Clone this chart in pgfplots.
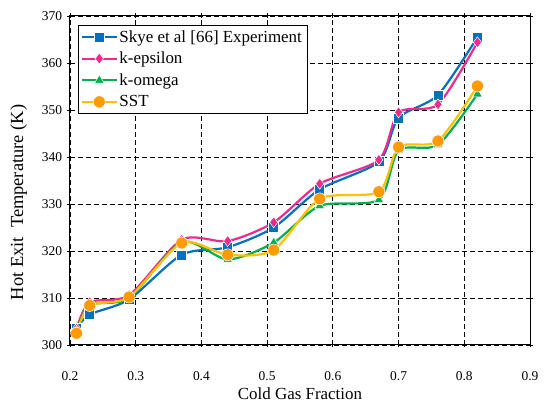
\documentclass[border=0pt]{standalone}
\usepackage{pgfplots}
\pgfplotsset{compat=1.18}
\usepackage{fontspec}
\setmainfont{Liberation Serif}
\definecolor{cexp}{HTML}{0070C0}
\definecolor{ceps}{HTML}{F02A8C}
\definecolor{come}{HTML}{00B050}
\definecolor{csstl}{HTML}{FFC000}
\definecolor{csstm}{HTML}{FF9A00}
\begin{document}
\begin{tikzpicture}
\begin{axis}[name=ax,
  scale only axis, width=460bp, height=329bp,
  xmin=0.2, xmax=0.9, ymin=300, ymax=370,
  xtick={0.2,0.3,...,0.9}, ytick={300,310,...,370},
  xticklabels={0.2,0.3,0.4,0.5,0.6,0.7,0.8,0.9},
  /pgf/number format/assume math mode=true,
  tick align=center, major tick length=5bp,
  tick style={black, line width=0.8bp},
  axis line style={black, line width=1bp},
  grid=major, grid style={black, dash pattern=on 5bp off 3bp, line width=0.8bp},
  tick label style={font=\fontsize{13.5}{15}\selectfont},
  xticklabel style={yshift=-21bp},
  yticklabel style={xshift=-2bp},
  xlabel style={font=\fontsize{17}{19}\selectfont, yshift=0bp},
  ylabel style={font=\fontsize{18.5}{20}\selectfont, yshift=8bp, xshift=-22bp},
  xlabel={Cold Gas Fraction}, ylabel={Hot Exit\ \ Temperature (K)},
  legend style={at={(0.017,0.973)}, anchor=north west, draw=black, line width=0.8bp,
    font=\fontsize{17}{19}\selectfont, row sep=4.5bp, inner sep=3bp},
  legend cell align=left,
  legend image code/.code={
    \draw[mark repeat=2,mark phase=2] plot coordinates {(0cm,0cm) (0.6cm,0cm) (1.2cm,0cm)};
  },
  every axis plot/.append style={line width=2.2bp, smooth, tension=0.45},
]
\addplot[cexp, mark=square*, mark size=5bp, mark options={fill=cexp, draw=white, line width=0.5bp}]
coordinates {(0.21,303.5)(0.23,306.5)(0.29,309.7)(0.37,319.2)(0.44,320.8)(0.51,325.0)(0.58,333.1)(0.67,339.0)(0.70,348.3)(0.76,353.2)(0.82,365.5)};
\addlegendentry{Skye et al [66] Experiment}
\addplot[ceps, mark=diamond*, mark size=5.5bp, mark options={fill=ceps, draw=white, line width=0.5bp}]
coordinates {(0.21,303.5)(0.23,309.1)(0.29,310.6)(0.37,322.4)(0.44,322.1)(0.51,326.1)(0.58,334.3)(0.67,339.4)(0.70,349.5)(0.76,351.2)(0.82,364.4)};
\addlegendentry{k-epsilon}
\addplot[come, mark=triangle*, mark size=5.5bp, mark options={fill=come, draw=white, line width=0.5bp}]
coordinates {(0.21,303.0)(0.23,308.5)(0.29,310.0)(0.37,321.9)(0.44,318.2)(0.51,321.8)(0.58,329.6)(0.67,330.9)(0.70,341.4)(0.76,342.6)(0.82,353.4)};
\addlegendentry{k-omega}
\addplot[csstl, mark=*, mark size=6bp, mark options={fill=csstm, draw=white, line width=0.5bp}]
coordinates {(0.21,302.5)(0.23,308.4)(0.29,310.2)(0.37,321.7)(0.44,319.2)(0.51,320.2)(0.58,331.1)(0.67,332.6)(0.70,342.1)(0.76,343.4)(0.82,355.1)};
\addlegendentry{SST}
\end{axis}
\path ([shift={(-70bp,-57bp)}]ax.south west) rectangle ([shift={(17bp,16bp)}]ax.north east);
\end{tikzpicture}
\end{document}
